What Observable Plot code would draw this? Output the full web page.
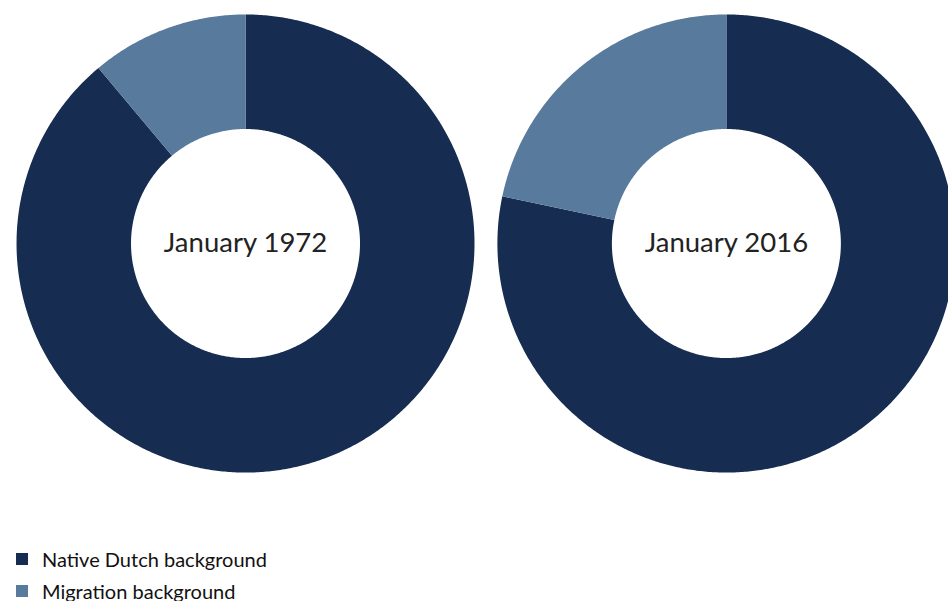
<!DOCTYPE html>
<html>
<head>
<meta charset="utf-8">
<script src="https://cdn.jsdelivr.net/npm/d3@7"></script>
<script src="https://cdn.jsdelivr.net/npm/@observablehq/plot@0.6"></script>
<style>
  html, body { margin: 0; padding: 0; background: #fff; overflow: hidden; }
  #chart svg { display: block; }
  .legend { margin-top: 43px; font-family: Lato, "Open Sans", sans-serif; font-size: 20px; color: #111; }
  .legend .row { display: flex; align-items: center; height: 32px; }
  .legend .sw { width: 12px; height: 12px; margin-left: 16px; margin-right: 14px; }
</style>
</head>
<body>
<div id="chart"></div>
<script>
// ---- data ----
const years = ["January 1972", "January 2016"];
const categories = ["Native Dutch background", "Migration background"];
const nativeShare = [88.9, 78.3];
const migrationShare = [11.1, 21.7];
const colors = ["#162c51", "#587a9c"];

// ---- layout (donut geometry in radius units) ----
const outerR = 1, innerR = 0.5, gap = 2.1;

const pts = [];
years.forEach((yr, i) => {
  const cx = i * gap;
  const arcs = d3.pie().sort(null).value(d => d.v)([
    {cat: categories[0], v: nativeShare[i]},
    {cat: categories[1], v: migrationShare[i]}
  ]);
  arcs.forEach((a, j) => {
    const id = yr + "-" + j;
    const n = Math.max(4, Math.ceil((a.endAngle - a.startAngle) / (Math.PI / 360)));
    for (let k = 0; k <= n; k++) {
      const t = a.startAngle + (a.endAngle - a.startAngle) * k / n;
      pts.push({id, cat: a.data.cat, x: cx + outerR * Math.sin(t), y: outerR * Math.cos(t)});
    }
    for (let k = n; k >= 0; k--) {
      const t = a.startAngle + (a.endAngle - a.startAngle) * k / n;
      pts.push({id, cat: a.data.cat, x: cx + innerR * Math.sin(t), y: innerR * Math.cos(t)});
    }
  });
});
const labels = years.map((yr, i) => ({label: yr, x: i * gap, y: 0}));

const chart = Plot.plot({
  width: 948,
  height: 500,
  margin: 0,
  style: {background: "#fff"},
  x: {domain: [-1.07, 3.07], axis: null},
  y: {domain: [-1.122, 1.061], axis: null},
  color: {domain: categories, range: colors},
  marks: [
    Plot.line(pts, {x: "x", y: "y", z: "id", fill: "cat", stroke: "none", curve: "linear"}),
    Plot.text(labels, {x: "x", y: "y", text: "label", fontSize: 27.5, fill: "#222",
      fontFamily: "Lato, 'Open Sans', sans-serif"})
  ]
});
document.getElementById("chart").append(chart);

const legend = document.createElement("div");
legend.className = "legend";
categories.forEach((c, i) => {
  const row = document.createElement("div");
  row.className = "row";
  const sw = document.createElement("span");
  sw.className = "sw";
  sw.style.background = colors[i];
  const tx = document.createElement("span");
  tx.textContent = c;
  row.append(sw, tx);
  legend.append(row);
});
document.getElementById("chart").append(legend);
</script>
</body>
</html>
